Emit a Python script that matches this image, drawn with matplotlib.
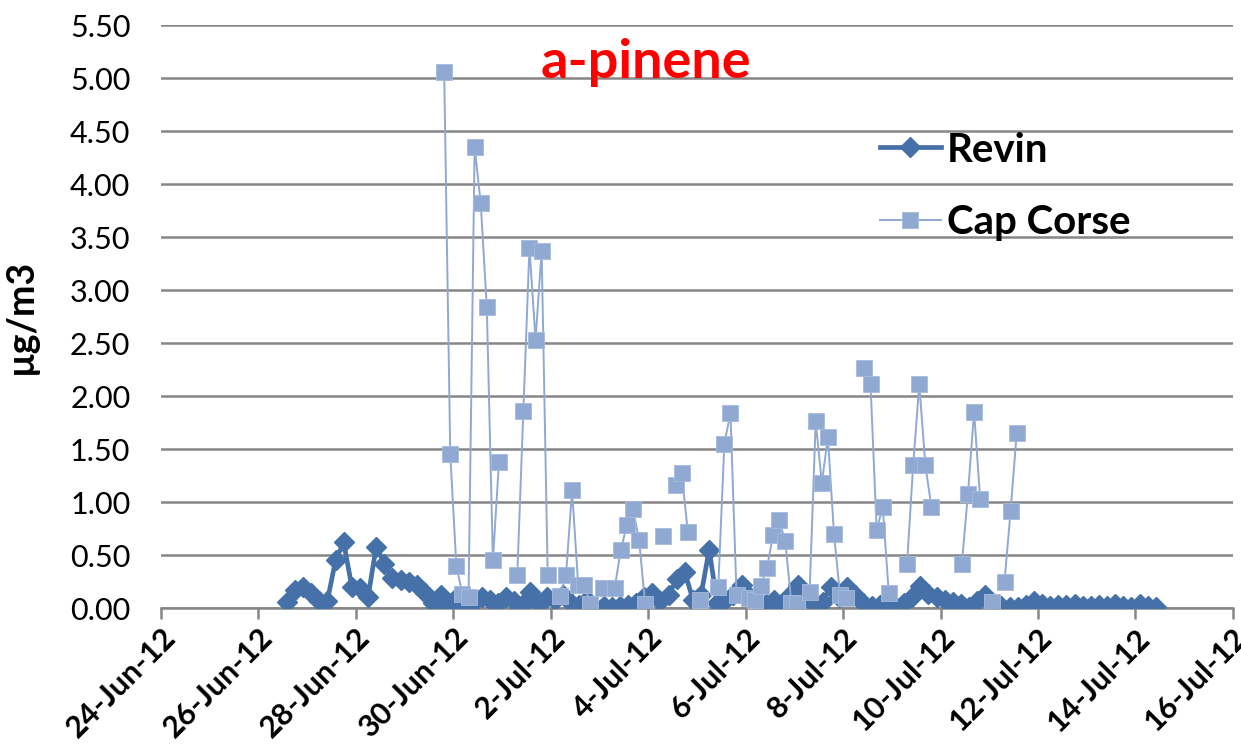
"""
a-pinene concentrations, Revin vs Cap Corse (summer 2012 campaign).
"""
import numpy as np
import pandas as pd
import matplotlib
matplotlib.use("Agg")
import matplotlib.pyplot as plt
import matplotlib.dates as mdates

plt.rcParams["font.family"] = ["Lato", "DejaVu Sans"]

# ─── Data ────────────────────────────────────────────
# Revin: one sample every 4 h
REVIN_START = "2012-06-26 14:00"
REVIN_STEP = "4h"
revin = [
    0.06, 0.17, 0.20, 0.14, 0.07, 0.07, 0.45, 0.62, 0.20, 0.19,
    0.10, 0.58, 0.42, 0.28, 0.26, 0.25, 0.22, 0.14, 0.05, 0.12,
    0.02, 0.10, 0.03, 0.06, 0.10, 0.08, 0.05, 0.10, 0.07, 0.03,
    0.15, 0.04, 0.10, 0.08, 0.12, 0.05, 0.03, 0.08, 0.01, 0.02,
    0.01, 0.02, 0.03, 0.05, 0.10, 0.14, 0.07, 0.12, 0.27, 0.34,
    0.08, 0.12, 0.55, 0.05, 0.08, 0.12, 0.22, 0.10, 0.05, 0.04,
    0.08, 0.03, 0.12, 0.22, 0.10, 0.03, 0.06, 0.20, 0.10, 0.20,
    0.12, 0.05, 0.02, 0.03, 0.03, 0.01, 0.05, 0.10, 0.21, 0.13,
    0.10, 0.08, 0.06, 0.04, 0.01, 0.07, 0.12, 0.02, 0.02, 0.01,
    0.01, 0.03, 0.07, 0.04, 0.02, 0.03, 0.03, 0.04, 0.02, 0.02,
    0.03, 0.02, 0.04, 0.02, 0.01, 0.04, 0.02, 0.01,
]

# Cap Corse: one slot every 3 h, None = no sample (gap in the line)
CAP_START = "2012-06-29 19:30"
CAP_STEP = "3h"
cap_corse = [
    5.06, 1.45, 0.40, 0.13, 0.10, 4.35, 3.82, 2.84, 0.45, 1.38,
    None, None, 0.31, 1.86, 3.40, 2.53, 3.37, 0.31, None, 0.11,
    0.31, 1.11, 0.22, 0.22, 0.04, None, 0.19, None, 0.19, 0.55,
    0.78, 0.93, 0.64, 0.04, None, None, 0.68, None, 1.16, 1.27,
    0.72, None, 0.08, None, None, 0.20, 1.55, 1.84, 0.12, None,
    0.09, 0.08, 0.21, 0.38, 0.69, 0.83, 0.63, 0.05, 0.05, None,
    0.15, 1.76, 1.18, 1.61, 0.70, 0.12, 0.09, None, None, 2.26,
    2.11, 0.74, 0.95, 0.14, None, None, 0.42, 1.35, 2.11, 1.35,
    0.95, None, None, None, None, 0.42, 1.08, 1.85, 1.03, None,
    0.06, None, 0.25, 0.92, 1.65,
]

y_ticks = [0.0, 0.5, 1.0, 1.5, 2.0, 2.5, 3.0, 3.5, 4.0, 4.5, 5.0, 5.5]
x_first, x_last = "2012-06-24", "2012-07-16"

REVIN_COLOR = "#4571a8"
CAP_COLOR = "#8fa9d2"
GRID_COLOR = "#868686"

revin_t = pd.date_range(REVIN_START, periods=len(revin), freq=REVIN_STEP)
cap_t = pd.date_range(CAP_START, periods=len(cap_corse), freq=CAP_STEP)
cap_v = np.array([np.nan if v is None else v for v in cap_corse], dtype=float)

# ─── Figure ──────────────────────────────────────────
fig = plt.figure(figsize=(12.41, 7.5), dpi=100)
ax = fig.add_axes([0.1297, 0.1893, 0.8638, 0.7773])

ax.plot(revin_t, revin, color=REVIN_COLOR, linewidth=3.4, marker="D",
        markersize=10, markerfacecolor=REVIN_COLOR, markeredgecolor=REVIN_COLOR,
        label="Revin", zorder=3)
ax.plot(cap_t, cap_v, color=CAP_COLOR, linewidth=1.4, marker="s",
        markersize=11, markerfacecolor=CAP_COLOR, markeredgecolor="#a6bbdc",
        markeredgewidth=0.6, label="Cap Corse", zorder=4)

ax.set_ylim(0, 5.5)
ax.set_yticks(y_ticks)
ax.set_yticklabels([f"{v:.2f}" for v in y_ticks])
ax.set_xlim(pd.Timestamp(x_first), pd.Timestamp(x_last))
ax.xaxis.set_major_locator(mdates.DayLocator(interval=2))
ax.xaxis.set_major_formatter(mdates.DateFormatter("%-d-%b-%y"))

ax.grid(axis="y", color=GRID_COLOR, linewidth=1.8)
ax.set_axisbelow(True)
for side in ("top", "right", "left"):
    ax.spines[side].set_visible(False)
ax.spines["bottom"].set_color(GRID_COLOR)
ax.spines["bottom"].set_linewidth(1.8)

ax.tick_params(axis="y", length=0, labelsize=22, pad=22, labelcolor="black")
ax.tick_params(axis="x", length=8, width=1.8, color=GRID_COLOR, labelsize=22, pad=3)
for lbl in ax.get_xticklabels():
    lbl.set_rotation(45)
    lbl.set_ha("right")
    lbl.set_va("top")
    lbl.set_rotation_mode("anchor")
    lbl.set_fontweight("bold")

ax.set_ylabel("µg/m3", fontsize=27, fontweight="bold")
ax.yaxis.set_label_coords(-0.115, 0.5)

ax.text(0.452, 0.935, "a-pinene", transform=ax.transAxes, color="#ff0000",
        fontsize=39, fontweight="bold", ha="center", va="center")

leg = ax.legend(loc="upper left", bbox_to_anchor=(0.656, 0.845), frameon=False,
                prop={"size": 29, "weight": "bold"}, handlelength=1.5,
                handletextpad=0.15, labelspacing=0.88, borderaxespad=0)

fig.savefig("out.png", dpi=100, facecolor="white")
